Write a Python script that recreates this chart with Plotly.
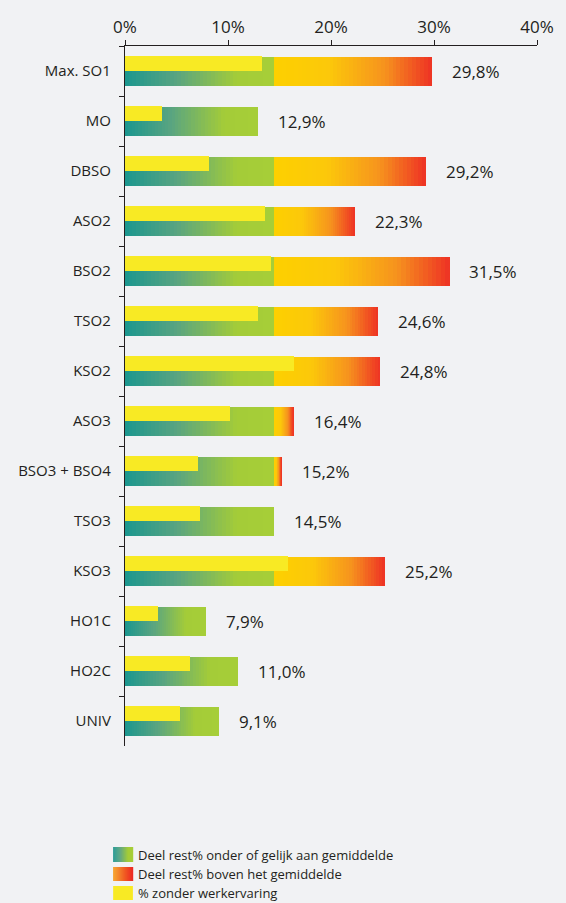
import plotly.graph_objects as go

# data
categories = ["Max. SO1", "MO", "DBSO", "ASO2", "BSO2", "TSO2", "KSO2", "ASO3",
              "BSO3 + BSO4", "TSO3", "KSO3", "HO1C", "HO2C", "UNIV"]
total = [29.8, 12.9, 29.2, 22.3, 31.5, 24.6, 24.8, 16.4, 15.2, 14.5, 25.2, 7.9, 11.0, 9.1]
zonder_werkervaring = [13.3, 3.6, 8.2, 13.6, 14.2, 12.9, 16.4, 10.2, 7.1, 7.3, 15.8, 3.2, 6.3, 5.3]
gemiddelde = 14.5
total_labels = ["29,8%", "12,9%", "29,2%", "22,3%", "31,5%", "24,6%", "24,8%", "16,4%",
                "15,2%", "14,5%", "25,2%", "7,9%", "11,0%", "9,1%"]

BG = "#f1f2f4"
TXT = "#231f20"
green_stops = [(0.0, (27, 150, 143)), (0.35, (90, 165, 128)), (0.75, (164, 204, 56)), (1.0, (166, 206, 56))]
red_stops = [(0.0, (253, 208, 0)), (0.35, (252, 200, 10)), (0.7, (246, 146, 30)), (1.0, (238, 50, 36))]


def grad(stops, t):
    for (t0, c0), (t1, c1) in zip(stops[:-1], stops[1:]):
        if t <= t1:
            f = (t - t0) / (t1 - t0) if t1 > t0 else 0
            return "rgb(%d,%d,%d)" % tuple(round(a + (b - a) * f) for a, b in zip(c0, c1))
    return "rgb(%d,%d,%d)" % stops[-1][1]


N = 40
W = 0.58
fig = go.Figure()

green_len = [min(t, gemiddelde) for t in total]
red_len = [max(t - gemiddelde, 0) for t in total]

for k in range(N):
    col = grad(green_stops, (k + 0.5) / N)
    fig.add_trace(go.Bar(
        y=categories, x=[g / N * 1.02 for g in green_len], base=[g * k / N for g in green_len],
        orientation="h", marker=dict(color=col, line_width=0), width=W, offset=-W / 2,
        showlegend=False, hoverinfo="skip"))
for k in range(N):
    col = grad(red_stops, (k + 0.5) / N)
    fig.add_trace(go.Bar(
        y=categories, x=[r / N * 1.02 if r > 0 else 0 for r in red_len],
        base=[gemiddelde + r * k / N for r in red_len],
        orientation="h", marker=dict(color=col, line_width=0), width=W, offset=-W / 2,
        showlegend=False, hoverinfo="skip"))

fig.add_trace(go.Bar(
    y=categories, x=zonder_werkervaring, orientation="h",
    marker=dict(color="#f8ea24", line_width=0), width=0.3, offset=-0.31,
    showlegend=False, hoverinfo="skip"))

for c, t, lab in zip(categories, total, total_labels):
    fig.add_annotation(x=t, y=c, text=lab, showarrow=False, xanchor="left", xshift=18,
                       font=dict(size=17, color=TXT, family="Open Sans"))

# legend (drawn manually because of gradient swatches)
L, T, PW, PH = 125, 46, 417, 700


def px(x):
    return (x - L) / PW


def py(y):
    return (T + PH - y) / PH


legend_items = [("Deel rest% onder of gelijk aan gemiddelde", green_stops, 847, 862),
                ("Deel rest% boven het gemiddelde", [(0, (247, 160, 30)), (1, (236, 40, 36))], 867, 881),
                ("% zonder werkervaring", None, 886, 900)]
for text, stops, y0, y1 in legend_items:
    if stops is None:
        fig.add_shape(type="rect", xref="paper", yref="paper", x0=px(113), x1=px(133),
                      y0=py(y1), y1=py(y0), fillcolor="#f8ea24", line_width=0)
    else:
        n = 20
        for k in range(n):
            fig.add_shape(type="rect", xref="paper", yref="paper",
                          x0=px(113 + 20 * k / n), x1=px(113 + 20 * (k + 1) / n + 0.3),
                          y0=py(y1), y1=py(y0), fillcolor=grad(stops, (k + 0.5) / n), line_width=0)
    fig.add_annotation(xref="paper", yref="paper", x=px(136), y=py((y0 + y1) / 2), text=text,
                       showarrow=False, xanchor="left", yanchor="middle",
                       font=dict(size=13, color=TXT, family="Open Sans"))

fig.update_layout(
    width=566, height=903, paper_bgcolor=BG, plot_bgcolor=BG,
    margin=dict(l=L, r=566 - L - PW, t=T, b=903 - T - PH),
    barmode="overlay", bargap=0,
    xaxis=dict(range=[0, 40], side="top", dtick=10, ticksuffix="%", showgrid=False, zeroline=False,
               showline=True, linecolor=TXT, linewidth=1.3, ticks="outside", ticklen=5, tickcolor=TXT,
               tickfont=dict(size=17, color=TXT, family="Open Sans"), fixedrange=True),
    yaxis=dict(autorange="reversed", showgrid=False, showline=True, linecolor=TXT, linewidth=1.3,
               ticks="outside", ticklen=5, tickcolor=TXT, tickson="boundaries",
               tickfont=dict(size=15, color=TXT, family="Open Sans"),
               ticklabelstandoff=10, fixedrange=True),
)

fig.write_html("out.html", config={"displayModeBar": False},
               post_script="document.body.style.margin='0';document.body.style.background='%s';" % BG)
